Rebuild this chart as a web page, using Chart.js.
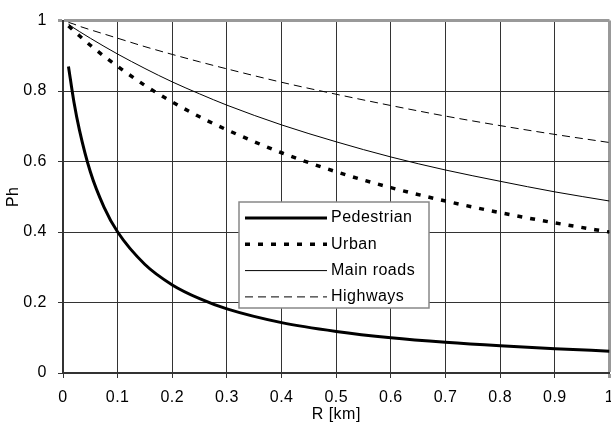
<!DOCTYPE html>
<html lang="en">
<head>
  <meta charset="UTF-8">
  <title>Ph vs R</title>
  <script src="https://cdn.jsdelivr.net/npm/chart.js"></script>
  <style>
    body{margin:0;background:#fff;}
    .chartBox{width:611px;height:436px;}
  </style>
</head>
<body>
  <div class="chartBox">
    <canvas id="myChart" width="611" height="436"></canvas>
  </div>
  <script>
    //data
    const distances = [0.01, 0.02, 0.03, 0.05, 0.075, 0.1, 0.15, 0.2, 0.25, 0.3, 0.4, 0.5, 0.6, 0.7, 0.8, 0.9, 1.0];
    const pedestrian = [0.87, 0.769, 0.69, 0.571, 0.471, 0.4, 0.308, 0.25, 0.211, 0.182, 0.143, 0.118, 0.1, 0.087, 0.077, 0.069, 0.062];
    const urban = [0.985, 0.971, 0.957, 0.93, 0.899, 0.87, 0.816, 0.769, 0.727, 0.69, 0.625, 0.571, 0.526, 0.488, 0.455, 0.426, 0.4];
    const mainRoads = [0.99, 0.979, 0.969, 0.95, 0.927, 0.905, 0.864, 0.826, 0.792, 0.76, 0.704, 0.656, 0.613, 0.576, 0.544, 0.514, 0.488];
    const highways = [0.995, 0.99, 0.984, 0.974, 0.962, 0.95, 0.926, 0.904, 0.883, 0.863, 0.825, 0.791, 0.759, 0.729, 0.702, 0.677, 0.654];
    const seriesNames = ['Pedestrian', 'Urban', 'Main roads', 'Highways'];

    const FONT = 'Liberation Sans, Arial, sans-serif';
    const pts = arr => arr.map((v, i) => ({x: distances[i], y: v}));

    const line = (label, values, width, dash) => ({
      label,
      data: pts(values),
      borderColor: '#000',
      backgroundColor: '#000',
      borderWidth: width,
      borderDash: dash,
      pointRadius: 0,
      cubicInterpolationMode: 'monotone',
      fill: false
    });

    const data = {
      datasets: [
        line(seriesNames[0], pedestrian, 3, []),
        line(seriesNames[1], urban, 3.5, [5, 8]),
        line(seriesNames[2], mainRoads, 1, []),
        line(seriesNames[3], highways, 1, [8, 5])
      ]
    };

    //legend box drawn inside the plot
    const boxLegend = {
      id: 'boxLegend',
      beforeDraw(chart){
        chart.ctx.letterSpacing = '0.5px';
      },
      afterDatasetsDraw(chart, args, opts){
        const ctx = chart.ctx;
        const {x, y, w, h, row} = opts;
        ctx.save();
        ctx.fillStyle = '#fff';
        ctx.fillRect(x, y, w, h);
        ctx.strokeStyle = '#888';
        ctx.lineWidth = 1.5;
        ctx.strokeRect(x, y, w, h);
        ctx.font = '16px ' + FONT;
        ctx.fillStyle = '#000';
        ctx.textBaseline = 'middle';
        chart.data.datasets.forEach((ds, i) => {
          const cy = y + 16 + i * row;
          ctx.beginPath();
          ctx.strokeStyle = ds.borderColor;
          ctx.lineWidth = ds.borderWidth;
          ctx.setLineDash(ds.borderDash);
          ctx.moveTo(x + 6, cy);
          ctx.lineTo(x + 88, cy);
          ctx.stroke();
          ctx.setLineDash([]);
          ctx.fillText(ds.label, x + 92, cy);
        });
        ctx.restore();
      }
    };

    const gridColor = c => c.tick && c.tick.value === 1 ? '#999' : '#333';
    const gridWidth = c => c.tick && c.tick.value === 1 ? 3 : 1;

    //config
    const config = {
      type: 'line',
      data,
      options: {
        responsive: false,
        animation: false,
        devicePixelRatio: 1,
        layout: {padding: {top: 11, right: 1.5, left: 0, bottom: 0}},
        scales: {
          x: {
            type: 'linear',
            min: 0,
            max: 1,
            ticks: {
              stepSize: 0.1,
              color: '#000',
              font: {family: FONT, size: 16},
              padding: 10,
              maxRotation: 0,
              callback: v => String(Number(v.toFixed(1)))
            },
            grid: {color: gridColor, lineWidth: gridWidth, tickLength: 5},
            border: {color: '#333', width: 2},
            title: {display: true, text: 'R [km]', color: '#000', font: {family: FONT, size: 16}, padding: {top: 0, bottom: 12}},
            afterFit(scale){
              scale.height = 63;
              scale.paddingLeft = 0;
              scale.paddingRight = 0;
            }
          },
          y: {
            min: 0,
            max: 1,
            ticks: {
              stepSize: 0.2,
              color: '#000',
              font: {family: FONT, size: 16},
              padding: 11,
              callback: v => String(Number(v.toFixed(1)))
            },
            grid: {color: gridColor, lineWidth: gridWidth, tickLength: 5},
            border: {color: '#333', width: 2},
            title: {display: true, text: 'Ph', color: '#000', font: {family: FONT, size: 16}, padding: {top: 4, bottom: 0}},
            afterFit(scale){
              scale.width = 63;
            }
          }
        },
        plugins: {
          legend: {display: false},
          tooltip: {enabled: false},
          boxLegend: {x: 239, y: 202, w: 190, h: 106, row: 26.3}
        }
      },
      plugins: [boxLegend]
    };

    //render
    const myChart = new Chart(document.getElementById('myChart'), config);
  </script>
</body>
</html>
